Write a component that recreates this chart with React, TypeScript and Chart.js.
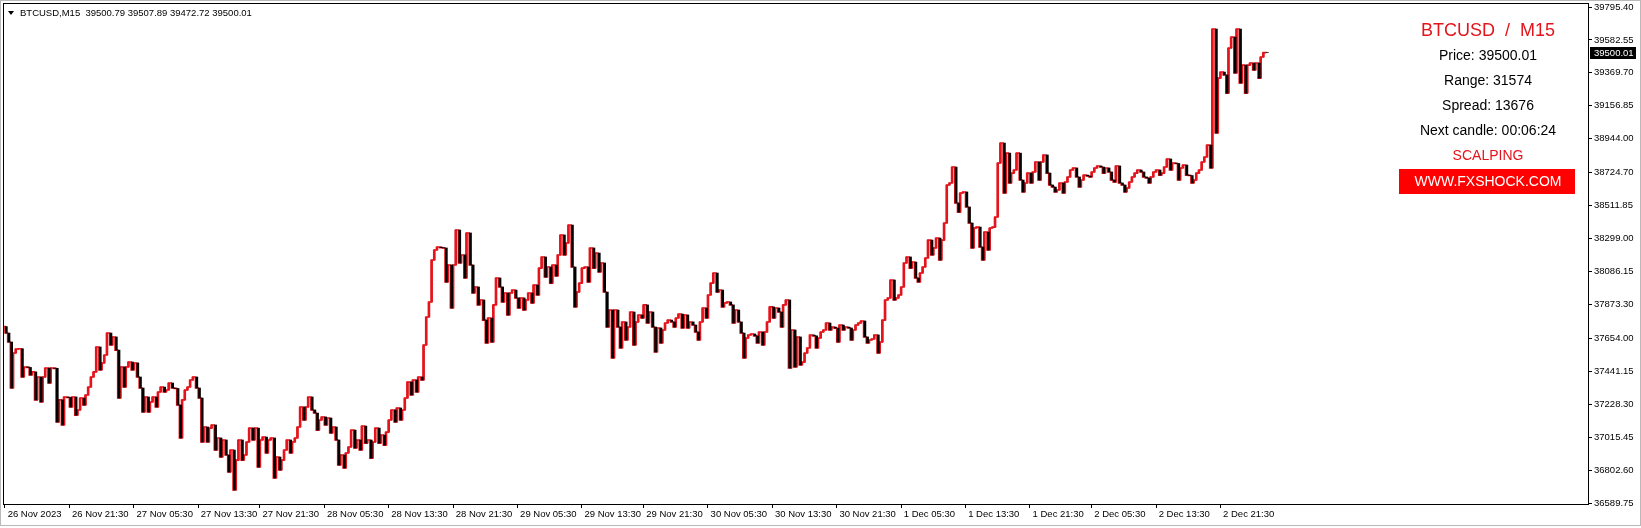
import React, { useEffect, useRef } from "react";
import { Chart, registerables } from "chart.js";

Chart.register(...registerables);

const FONT = '"Liberation Sans", Arial, sans-serif';
const RED = "#e3141b";

// Close of every M15 bar (open = previous close)
const firstOpen = 37730;
const closes: number[] = [
  37688, 37630, 37333, 37559, 37585, 37587, 37404, 37469, 37466, 37417,
  37437, 37256, 37404, 37243, 37404, 37462, 37365, 37462, 37460, 37113,
  37256, 37094, 37275, 37272, 37210, 37275, 37158, 37191, 37268, 37223,
  37288, 37339, 37404, 37437, 37598, 37450, 37495, 37546, 37688, 37611,
  37663, 37578, 37268, 37469, 37339, 37469, 37501, 37450, 37495, 37404,
  37333, 37178, 37275, 37178, 37243, 37275, 37210, 37307, 37339, 37307,
  37320, 37365, 37333, 37330, 37223, 37010, 37256, 37320, 37339, 37385,
  37404, 37333, 37268, 36984, 37081, 36984, 37074, 37094, 36932, 37010,
  36887, 36997, 36900, 36790, 36932, 36674, 36867, 36997, 36867, 36900,
  36984, 37074, 36997, 37074, 36822, 36997, 37016, 36913, 36997, 37010,
  36751, 36887, 36803, 36867, 36932, 36997, 36913, 36984, 37010, 37081,
  37210, 37126, 37210, 37275, 37191, 37171, 37061, 37126, 37146, 37094,
  37139, 37042, 37081, 36997, 36835, 36900, 36816, 36913, 36952, 37061,
  36945, 36997, 36932, 37087, 36977, 36997, 36880, 36984, 37074, 36977,
  37029, 36964, 37048, 37126, 37191, 37113, 37204, 37126, 37191, 37268,
  37372, 37288, 37385, 37307, 37404, 37385, 37611, 37792, 37889, 38160,
  38225,
  38244, 38240, 38238, 38018, 38128, 37850, 38128, 38354, 38141, 38193,
  38044, 38335, 38128, 37947, 37986, 37870, 37902, 37772, 37624, 37785,
  37630, 37870, 38044, 37986, 37889, 37947, 37805, 37947, 37966, 37915,
  37850, 37915, 37837, 37902, 37947, 37882, 37999, 37934, 38108, 38180,
  38050, 38115, 38011, 38128, 38057, 38193, 38322, 38193, 38270, 38386,
  38115, 37857, 37953, 38011, 38108, 38115, 38018, 38238, 38108, 38205,
  38083, 38141, 37953, 37727, 37837, 37527, 37837, 37727, 37592, 37760,
  37643, 37727, 37824, 37611, 37760, 37805, 37785, 37870, 37753, 37824,
  37727, 37566, 37721, 37624, 37708, 37753, 37772, 37760, 37727, 37785,
  37811, 37721, 37805, 37721, 37760, 37740, 37695, 37643, 37760, 37850,
  37785, 37934, 38011, 38076, 37953, 37966, 37857, 37882, 37889, 37870,
  37753, 37837, 37760, 37688, 37527, 37656, 37676, 37682, 37670, 37624,
  37695, 37611, 37695, 37760, 37857, 37785, 37850, 37824, 37727, 37870,
  37902, 37462, 37708, 37469, 37663, 37482, 37500, 37559, 37592, 37676,
  37670, 37592, 37656, 37695, 37708, 37753, 37708, 37727, 37720, 37630,
  37740, 37708, 37727, 37721, 37643, 37708, 37740, 37753, 37766, 37663,
  37624, 37643, 37650, 37676, 37559, 37630,
  37772, 37902, 37915, 38031, 37902, 37915, 37934, 37986, 38141, 38180,
  38108, 38147, 38044, 38018, 38076, 38115, 38173, 38289, 38193, 38238,
  38302, 38160, 38289, 38399, 38645, 38658, 38761, 38529, 38470, 38593,
  38600, 38503, 38399, 38238, 38367, 38373, 38244, 38160, 38341, 38225,
  38367, 38373, 38438, 38787, 38916, 38593, 38851, 38658, 38722, 38742,
  38851, 38677, 38600, 38658, 38722, 38658, 38729, 38794, 38677, 38794,
  38839, 38722, 38645, 38632, 38600, 38613, 38658, 38593, 38664, 38697,
  38742, 38755, 38697, 38632, 38677, 38709, 38703, 38697, 38729, 38755,
  38768, 38761, 38722, 38755, 38729, 38677, 38664, 38768, 38658, 38645,
  38600, 38626, 38664, 38697, 38722, 38742, 38729, 38697, 38690, 38658,
  38697, 38729, 38742, 38709, 38722, 38761, 38813, 38742, 38787, 38784,
  38677, 38755, 38774, 38709, 38706, 38658, 38677, 38722, 38742, 38794,
  38826, 38903, 38755, 39653, 38981, 39336, 39375, 39356, 39239, 39530,
  39601, 39369, 39653, 39304, 39420, 39239, 39420, 39433, 39388, 39433,
  39336, 39472, 39500.79, 39500.01,
];

const xTickIndex = [0, 24, 48, 72, 95, 119, 143, 167, 191, 215, 238, 262, 286, 310, 334, 358, 382, 405, 429, 453];
const xTickLabels = [
  "26 Nov 2023", "26 Nov 21:30", "27 Nov 05:30", "27 Nov 13:30", "27 Nov 21:30",
  "28 Nov 05:30", "28 Nov 13:30", "28 Nov 21:30", "29 Nov 05:30", "29 Nov 13:30",
  "29 Nov 21:30", "30 Nov 05:30", "30 Nov 13:30", "30 Nov 21:30", "1 Dec 05:30",
  "1 Dec 13:30", "1 Dec 21:30", "2 Dec 05:30", "2 Dec 13:30", "2 Dec 21:30",
];
const yTickValues = [
  39795.4, 39582.55, 39369.7, 39156.85, 38944.0, 38724.7, 38511.85, 38299.0,
  38086.15, 37873.3, 37654.0, 37441.15, 37228.3, 37015.45, 36802.6, 36589.75,
];
const yTickLabels = [
  "39795.40", "39582.55", "39369.70", "39156.85", "38944.00", "38724.70", "38511.85", "38299.00",
  "38086.15", "37873.30", "37654.00", "37441.15", "37228.30", "37015.45", "36802.60", "36589.75",
];

const headerText = "BTCUSD,M15  39500.79 39507.89 39472.72 39500.01";
const infoTitle = "BTCUSD  /  M15";
const infoLines = ["Price: 39500.01", "Range: 31574", "Spread: 13676", "Next candle: 00:06:24"];
const infoTag = "SCALPING";
const infoSite = "WWW.FXSHOCK.COM";
const lastPriceLabel = "39500.01";

const overlayPlugin = {
  id: "mt4overlay",
  afterDraw(chart: any) {
    const ctx = chart.ctx as CanvasRenderingContext2D;
    const { left, top, right, bottom } = chart.chartArea;
    ctx.save();
    // window frame
    ctx.strokeStyle = "#b9b9b9";
    ctx.lineWidth = 1;
    ctx.strokeRect(0.5, 0.5, 1640, 525);
    // chart box
    ctx.strokeStyle = "#000";
    ctx.strokeRect(left - 0.5, top - 0.5, right - left + 1, bottom - top + 1);

    // header
    ctx.fillStyle = "#000";
    ctx.beginPath();
    ctx.moveTo(8, 11);
    ctx.lineTo(14, 11);
    ctx.lineTo(11, 15);
    ctx.closePath();
    ctx.fill();
    ctx.font = `9.5px ${FONT}`;
    ctx.textBaseline = "middle";
    ctx.textAlign = "left";
    ctx.fillText(headerText, 20, 13.5);

    // info block
    const cx = 1488;
    ctx.textAlign = "center";
    ctx.fillStyle = RED;
    ctx.font = `18px ${FONT}`;
    ctx.fillText(infoTitle, cx, 31);
    ctx.fillStyle = "#000";
    ctx.font = `14px ${FONT}`;
    infoLines.forEach((t, i) => ctx.fillText(t, cx, 56 + i * 25));
    ctx.fillStyle = RED;
    ctx.fillText(infoTag, cx, 156);
    ctx.fillStyle = "#ff0000";
    ctx.fillRect(1399, 169, 176, 25);
    ctx.fillStyle = "#fff";
    ctx.fillText(infoSite, cx, 182);

    // last price marker
    const py = chart.scales.y.getPixelForValue(closes[closes.length - 1]);
    ctx.fillStyle = "#000";
    ctx.fillRect(right + 2, Math.round(py) - 6, 46, 12);
    ctx.fillStyle = "#fff";
    ctx.textAlign = "left";
    ctx.font = `9.5px ${FONT}`;
    ctx.fillText(lastPriceLabel, right + 6, Math.round(py));
    ctx.restore();
  },
};

export default function App() {
  const ref = useRef<HTMLCanvasElement>(null);
  useEffect(() => {
    document.body.style.margin = "0";
    const canvas = ref.current!;
    const opens = closes.map((c, i) => (i === 0 ? firstOpen : closes[i - 1]));
    const linePts = [{ x: -1, y: firstOpen }, ...closes.map((c, i) => ({ x: i, y: c }))];
    const bull: any[] = [];
    const bear: any[] = [];
    closes.forEach((c, i) => {
      if (c >= opens[i]) bull.push({ x: i, y: [opens[i], c] });
      else bear.push({ x: i + 0.5, y: [opens[i], c] });
    });

    const chart = new Chart(canvas, {
      type: "bar",
      data: {
        datasets: [
          {
            type: "line",
            data: linePts,
            stepped: true,
            borderColor: RED,
            borderWidth: 1.6,
            pointRadius: 0,
            order: 3,
          } as any,
          {
            type: "bar",
            data: bull,
            backgroundColor: RED,
            barThickness: 2,
            grouped: false,
            order: 2,
          } as any,
          {
            type: "bar",
            data: bear,
            backgroundColor: "#000",
            barThickness: 2,
            grouped: false,
            order: 1,
          } as any,
        ],
      },
      options: {
        animation: false,
        responsive: false,
        maintainAspectRatio: false,
        layout: { padding: { left: 4, top: 4, right: 0, bottom: 0 } },
        plugins: { legend: { display: false }, tooltip: { enabled: false } },
        scales: {
          x: {
            type: "linear",
            min: -0.37,
            max: 590,
            offset: false,
            position: "bottom",
            grid: { offset: false, drawOnChartArea: false, drawTicks: true, tickLength: 4, color: "#000" },
            border: { display: true, color: "#000" },
            afterBuildTicks: (s: any) => {
              s.ticks = xTickIndex.map((v) => ({ value: v }));
            },
            afterFit: (s: any) => {
              s.height = 24;
              s.paddingLeft = 0;
              s.paddingRight = 0;
            },
            ticks: {
              autoSkip: false,
              maxRotation: 0,
              align: "start",
              padding: 1,
              color: "#000",
              font: { family: FONT, size: 9.5 },
              callback: (_v: any, i: number) => " " + xTickLabels[i],
            },
          } as any,
          y: {
            type: "linear",
            position: "right",
            min: 36583.3,
            max: 39814.8,
            grid: { drawOnChartArea: false, drawTicks: true, tickLength: 4, color: "#000" },
            border: { display: true, color: "#000" },
            afterBuildTicks: (s: any) => {
              s.ticks = yTickValues.map((v) => ({ value: v }));
            },
            afterFit: (s: any) => {
              s.width = 53;
              s.paddingTop = 0;
              s.paddingBottom = 0;
            },
            ticks: {
              autoSkip: false,
              padding: 2,
              color: "#000",
              font: { family: FONT, size: 9.5 },
              callback: (_v: any, i: number) => yTickLabels[i],
            },
          } as any,
        },
      },
      plugins: [overlayPlugin],
    });
    return () => chart.destroy();
  }, []);
  return (
    <div style={{ width: 1641, height: 528, background: "#fff" }}>
      <canvas ref={ref} width={1641} height={528} style={{ display: "block" }} />
    </div>
  );
}
